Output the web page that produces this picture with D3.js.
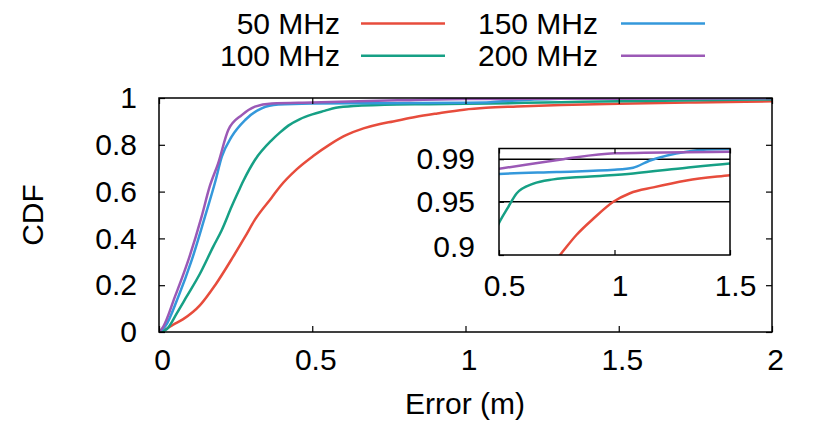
<!DOCTYPE html>
<html>
<head>
<meta charset="utf-8">
<script src="https://cdn.jsdelivr.net/npm/d3@7"></script>
<style>
  html, body { margin: 0; padding: 0; background: #fff; }
  svg { display: block; font-family: "Liberation Sans", Arial, Helvetica, sans-serif; }
</style>
</head>
<body>
<div id="chart"></div>
<script>
// series: [error (m), CDF]
const seriesNames = ["50 MHz", "100 MHz", "150 MHz", "200 MHz"];
const cdf50 = [[0,0],[0.02,0.01],[0.045,0.03],[0.079,0.055],[0.134,0.115],[0.183,0.2],[0.242,0.322],[0.28,0.405],[0.313,0.48],[0.368,0.575],[0.395,0.622],[0.449,0.695],[0.503,0.752],[0.558,0.802],[0.612,0.842],[0.667,0.87],[0.721,0.889],[0.764,0.9],[0.836,0.919],[0.908,0.934],[0.995,0.95],[1.067,0.958],[1.168,0.9635],[1.312,0.97],[1.5,0.975],[1.75,0.981],[2,0.986]];
const cdf100 = [[0,0],[0.025,0.012],[0.058,0.08],[0.09,0.151],[0.134,0.25],[0.177,0.365],[0.205,0.436],[0.237,0.536],[0.259,0.6],[0.275,0.645],[0.313,0.735],[0.368,0.82],[0.395,0.853],[0.422,0.882],[0.46,0.91],[0.5,0.93],[0.54,0.945],[0.577,0.958],[0.649,0.967],[0.735,0.971],[0.88,0.9735],[1.081,0.9766],[1.312,0.982],[1.5,0.986],[1.75,0.99],[2,0.994]];
const cdf150 = [[0,0],[0.02,0.023],[0.063,0.151],[0.107,0.308],[0.15,0.493],[0.183,0.64],[0.205,0.749],[0.237,0.835],[0.281,0.906],[0.335,0.956],[0.389,0.972],[0.5,0.976],[0.75,0.978],[1,0.98],[1.081,0.982],[1.151,0.9885],[1.312,0.997],[1.4,0.999],[1.5,0.9995],[2,1]];
const cdf200 = [[0,0],[0.014,0.023],[0.052,0.151],[0.096,0.308],[0.139,0.493],[0.165,0.62],[0.193,0.721],[0.226,0.863],[0.27,0.927],[0.313,0.963],[0.368,0.977],[0.5,0.981],[0.778,0.99],[1,0.9955],[1.5,0.997],[2,0.999]];
const xTicks = [0, 0.5, 1, 1.5, 2];
const yTicks = [0, 0.2, 0.4, 0.6, 0.8, 1];
const insetXTicks = [0.5, 1, 1.5];
const insetYTicks = [0.9, 0.95, 0.99];
const insetGrid = [0.95, 0.99];

const colors = ["#e74c3c", "#16a085", "#3498db", "#9b59b6"];
const allSeries = [cdf50, cdf100, cdf150, cdf200];

const W = 830, H = 436, FS = 30;
const svg = d3.select('#chart').append('svg')
  .attr('width', W).attr('height', H)
  .attr('viewBox', `0 0 ${W} ${H}`);

const x = d3.scaleLinear().domain([0, 2]).range([159, 772]);
const y = d3.scaleLinear().domain([0, 1]).range([332, 98]);

svg.append('clipPath').attr('id', 'clipMain')
  .append('rect').attr('x', 159).attr('y', 98).attr('width', 613).attr('height', 234);

// main curves
const line = d3.line().x(d => x(d[0])).y(d => y(d[1])).curve(d3.curveMonotoneX);
const curves = svg.append('g').attr('clip-path', 'url(#clipMain)');
allSeries.forEach((s, i) => {
  curves.append('path')
    .attr('d', line(s))
    .attr('fill', 'none')
    .attr('stroke', colors[i])
    .attr('stroke-width', 2.5);
});

// axes with inward ticks, mirrored
function styleAxis(g) {
  g.select('.domain').remove();
  g.selectAll('line').attr('stroke', '#000').attr('stroke-width', 1.2);
  g.selectAll('text').attr('font-size', FS).attr('fill', '#000').attr('font-family', 'Liberation Sans, Arial, sans-serif');
}
svg.append('g').attr('transform', 'translate(0,332)')
  .call(d3.axisBottom(x).tickValues(xTicks).tickSize(-6).tickPadding(17).tickFormat(d3.format('')))
  .call(styleAxis)
  .selectAll('text').attr('dx', 3);
svg.append('g').attr('transform', 'translate(0,98)')
  .call(d3.axisTop(x).tickValues(xTicks).tickSize(-6).tickFormat(''))
  .call(styleAxis);
svg.append('g').attr('transform', 'translate(159,0)')
  .call(d3.axisLeft(y).tickValues(yTicks).tickSize(-6).tickPadding(22).tickFormat(d3.format('')))
  .call(styleAxis);
svg.append('g').attr('transform', 'translate(772,0)')
  .call(d3.axisRight(y).tickValues(yTicks).tickSize(-6).tickFormat(''))
  .call(styleAxis);

svg.append('rect')
  .attr('x', 159).attr('y', 98).attr('width', 613).attr('height', 234)
  .attr('fill', 'none').attr('stroke', '#000').attr('stroke-width', 1.5);

// axis titles
svg.append('text')
  .attr('transform', 'translate(43,215) rotate(-90)')
  .attr('text-anchor', 'middle')
  .attr('font-size', FS)
  .text('CDF');
svg.append('text')
  .attr('x', 465).attr('y', 414)
  .attr('text-anchor', 'middle')
  .attr('font-size', FS)
  .text('Error (m)');

// inset zoom
const xi = d3.scaleLinear().domain([0.5, 1.5]).range([499, 730]);
const yi = d3.scaleLinear().domain([0.9, 1.0]).range([255, 148.5]);

svg.append('rect')
  .attr('x', 499).attr('y', 148.5).attr('width', 231).attr('height', 106.5)
  .attr('fill', '#fff');
svg.append('clipPath').attr('id', 'clipInset')
  .append('rect').attr('x', 499).attr('y', 148.5).attr('width', 231).attr('height', 106.5);

const inset = svg.append('g');
inset.selectAll('.grid')
  .data(insetGrid)
  .enter().append('line')
  .attr('x1', 499).attr('x2', 730)
  .attr('y1', d => yi(d)).attr('y2', d => yi(d))
  .attr('stroke', '#000').attr('stroke-width', 1.5);

const lineI = d3.line().x(d => xi(d[0])).y(d => yi(d[1])).curve(d3.curveMonotoneX);
const curvesI = inset.append('g').attr('clip-path', 'url(#clipInset)');
allSeries.forEach((s, i) => {
  curvesI.append('path')
    .attr('d', lineI(s))
    .attr('fill', 'none')
    .attr('stroke', colors[i])
    .attr('stroke-width', 2.5);
});

inset.append('g').attr('transform', 'translate(0,255)')
  .call(d3.axisBottom(xi).tickValues(insetXTicks).tickSize(-5).tickPadding(20).tickFormat(d3.format('')))
  .call(styleAxis)
  .selectAll('text').attr('dx', 5);
inset.append('g').attr('transform', 'translate(0,148.5)')
  .call(d3.axisTop(xi).tickValues(insetXTicks).tickSize(-5).tickFormat(''))
  .call(styleAxis);
const yAxI = inset.append('g').attr('transform', 'translate(499,0)')
  .call(d3.axisLeft(yi).tickValues(insetYTicks).tickSize(-5).tickPadding(24).tickFormat(d3.format('')))
  .call(styleAxis);
yAxI.selectAll('.tick').filter(d => d === 0.9).select('text').attr('dy', '0.05em');

inset.append('rect')
  .attr('x', 499).attr('y', 148.5).attr('width', 231).attr('height', 106.5)
  .attr('fill', 'none').attr('stroke', '#000').attr('stroke-width', 1.5);

// legend, two columns
const legendCols = [{ textX: 340, lineX: 361 }, { textX: 598, lineX: 621 }];
const legendRows = [{ base: 34, lineY: 23.5 }, { base: 66, lineY: 55.7 }];
seriesNames.forEach((name, i) => {
  const c = legendCols[Math.floor(i / 2)];
  const r = legendRows[i % 2];
  svg.append('text')
    .attr('x', c.textX).attr('y', r.base)
    .attr('text-anchor', 'end')
    .attr('font-size', FS)
    .text(name);
  svg.append('line')
    .attr('x1', c.lineX).attr('x2', c.lineX + 84)
    .attr('y1', r.lineY).attr('y2', r.lineY)
    .attr('stroke', colors[i])
    .attr('stroke-width', 2.5);
});
</script>
</body>
</html>
